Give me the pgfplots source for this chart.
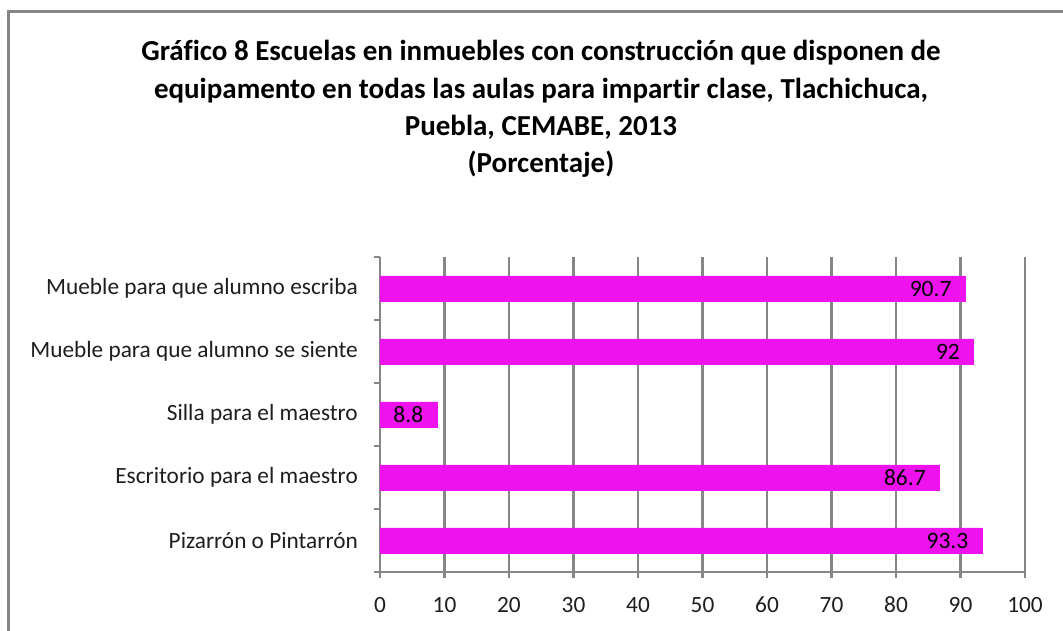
\documentclass[border=0pt]{standalone}
\usepackage{pgfplots}
\pgfplotsset{compat=1.18}
\usepackage{fontspec}
\setmainfont{Carlito}[Ligatures=NoCommon]
\definecolor{barmag}{RGB}{238,18,238}
\definecolor{gridg}{RGB}{134,134,134}
\definecolor{txt}{RGB}{30,30,30}
\begin{document}
\begin{tikzpicture}[x=1pt,y=1pt]
\path[use as bounding box] (-380,-59) rectangle (683,572);
\draw[gridg, line width=3pt] (-371,-80) -- (-371,560) -- (720,560);
\node[font=\fontsize{29}{37.2}\selectfont\bfseries, align=center, anchor=center] at (161,463)
  {Gráfico 8 Escuelas en inmuebles con construcción que disponen de\\
   equipamento en todas las aulas para impartir clase, Tlachichuca,\\
   Puebla, CEMABE, 2013\\
   (Porcentaje)};
\begin{axis}[
  at={(0,0)}, anchor=south west,
  scale only axis, width=645pt, height=315pt,
  xmin=0, xmax=100, ymin=0.5, ymax=5.5,
  xbar, bar width=25pt,
  axis x line=bottom, axis y line=left,
  axis line style={-, draw=gridg, line width=2.5pt},
  xtick={0,10,...,100},
  xmajorgrids, major grid style={draw=gridg, line width=2.5pt},
  tick align=outside, major tick length=6pt,
  tick style={draw=gridg, line width=2.5pt},
  ytick={0.5,1.5,...,5.5}, yticklabels={},
  extra y ticks={1,2,3,4,5},
  extra y tick labels={Pizarrón o Pintarrón, Escritorio para el maestro, Silla para el maestro, Mueble para que alumno se siente, Mueble para que alumno escriba},
  extra y tick style={major tick length=0pt, grid=none},
  ticklabel style={font=\fontsize{23.3}{26}\selectfont, text=txt},
  yticklabel style={inner sep=0pt, xshift=-22pt},
  xticklabel style={inner sep=0pt, anchor=north, text height=15pt, text depth=0pt, yshift=-19pt},
  /pgf/number format/assume math mode=true,
  nodes near coords,
  every node near coord/.append style={anchor=east, xshift=-10pt, font=\fontsize{23.5}{26}\selectfont, text=black},
  clip=false,
]
\addplot[draw=barmag, fill=barmag] coordinates {(93.3,1) (86.7,2) (8.8,3) (92,4) (90.7,5)};
\end{axis}
\end{tikzpicture}
\end{document}
